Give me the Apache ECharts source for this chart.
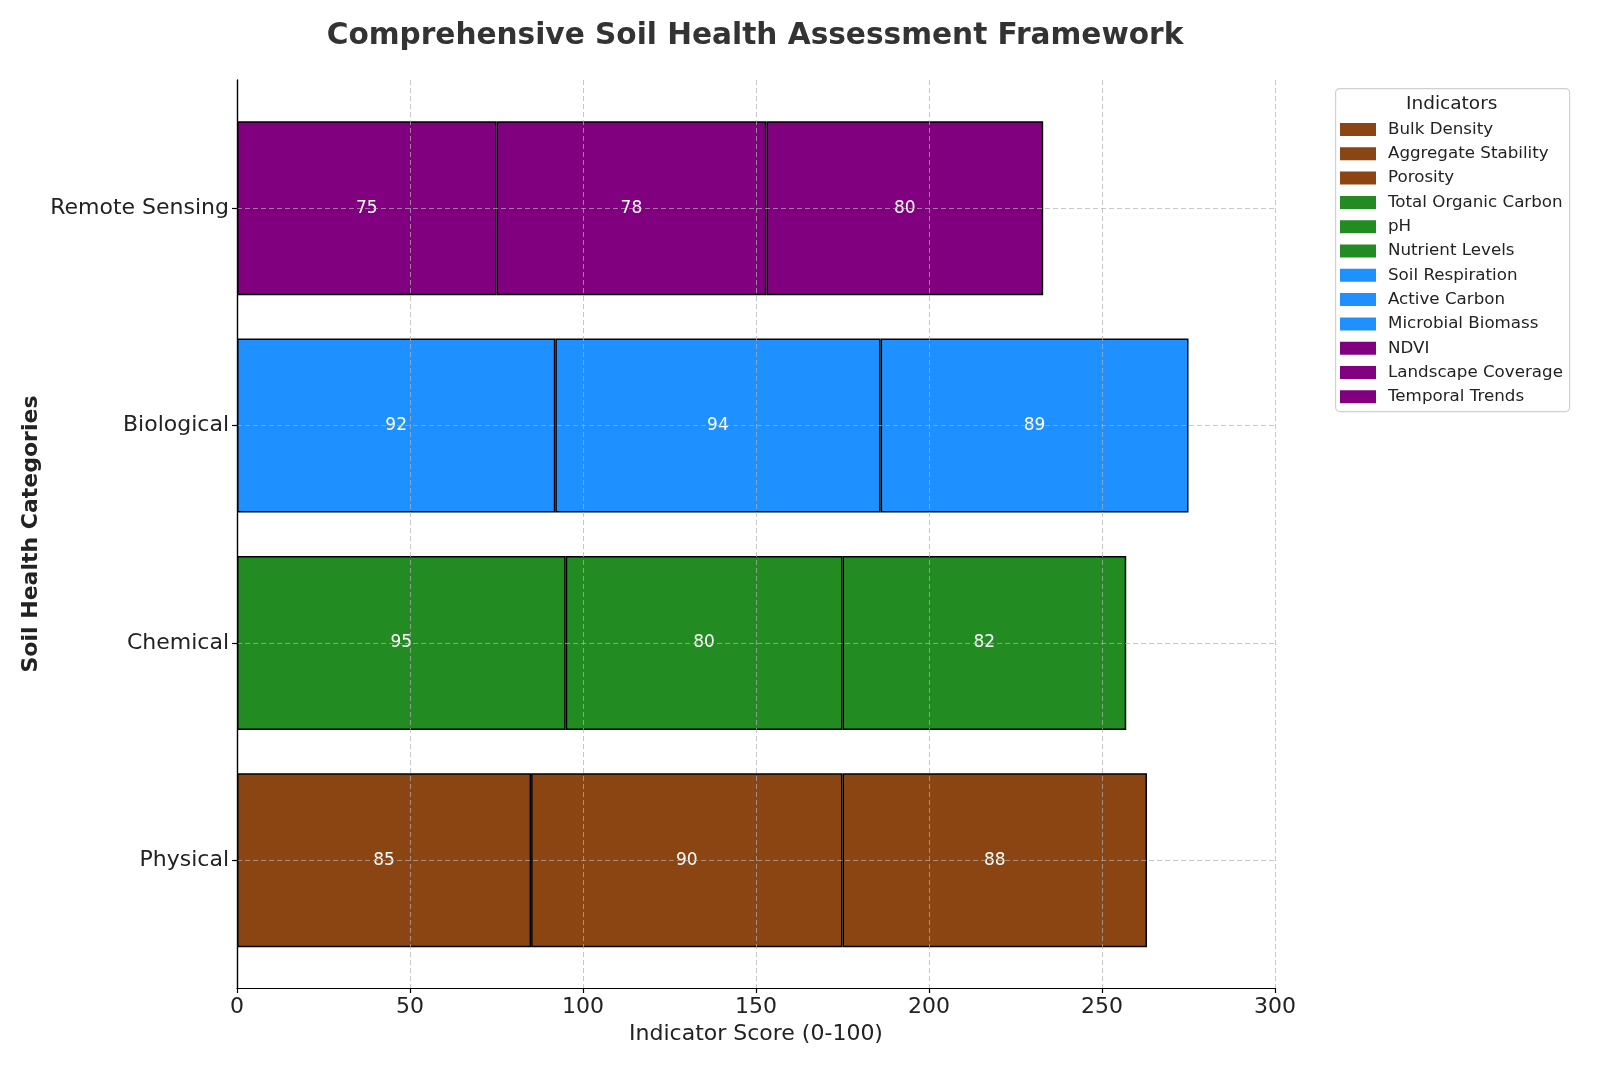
<!DOCTYPE html>
<html>
<head>
<meta charset="utf-8">
<script src="https://cdn.jsdelivr.net/npm/echarts@6/dist/echarts.min.js"></script>
<style>html,body{margin:0;padding:0;background:#fff}#c{width:1600px;height:1066px}</style>
</head>
<body>
<div id="c"></div>
<script>
const categories = ['Physical', 'Chemical', 'Biological', 'Remote Sensing'];
const indicators = ['Bulk Density', 'Aggregate Stability', 'Porosity',
  'Total Organic Carbon', 'pH', 'Nutrient Levels',
  'Soil Respiration', 'Active Carbon', 'Microbial Biomass',
  'NDVI', 'Landscape Coverage', 'Temporal Trends'];
const indicatorCategory = ['Physical', 'Physical', 'Physical',
  'Chemical', 'Chemical', 'Chemical',
  'Biological', 'Biological', 'Biological',
  'Remote Sensing', 'Remote Sensing', 'Remote Sensing'];
const indicatorScores = [85, 90, 88, 95, 80, 82, 92, 94, 89, 75, 78, 80];
const categoryColors = {
  'Physical': '#8B4513', 'Chemical': '#228B22',
  'Biological': '#1E90FF', 'Remote Sensing': '#800080'
};
const xTicks = [0, 50, 100, 150, 200, 250, 300];

const FONT = 'DejaVu Sans';
const gridLine = { type: [5, 3], color: 'rgba(176,176,176,0.7)', width: 1 };

const series = indicators.map((name, i) => ({
  name: name,
  type: 'bar',
  stack: 'total',
  xAxisIndex: 1,
  yAxisIndex: 1,
  barWidth: 174,
  data: categories.map(c => c === indicatorCategory[i] ? indicatorScores[i] : '-'),
  itemStyle: { color: categoryColors[indicatorCategory[i]], borderColor: '#000', borderWidth: 1.5 },
  label: { show: true, position: 'inside', color: '#fff', fontSize: 17, fontFamily: FONT,
           formatter: p => String(p.value) },
  z: 2
}));
series.push({
  name: '_grid',
  type: 'line',
  xAxisIndex: 1,
  yAxisIndex: 1,
  data: categories.map(() => '-'),
  z: 6,
  silent: true,
  markLine: {
    silent: true,
    symbol: 'none',
    label: { show: false },
    lineStyle: gridLine,
    data: categories.map(c => ({ yAxis: c }))
  }
});

const chart = echarts.init(document.getElementById('c'));
chart.setOption({
  backgroundColor: '#fff',
  animation: false,
  title: {
    text: 'Comprehensive Soil Health Assessment Framework',
    left: 750, top: 16, textAlign: 'center',
    textStyle: { fontFamily: FONT, fontSize: 29.6, fontWeight: 'bold', color: '#333' }
  },
  grid: [
    { left: 237, right: 325, top: 80, bottom: 78 },
    { left: 237, right: 325, top: 99.5, bottom: 97 }
  ],
  xAxis: [
    {
      gridIndex: 0, type: 'value', min: 0, max: 300, interval: 50, z: 5,
      name: 'Indicator Score (0-100)', nameLocation: 'middle', nameGap: 35,
      nameTextStyle: { fontFamily: FONT, fontSize: 22, color: '#222' },
      axisLine: { show: true, lineStyle: { color: '#000', width: 1.2 } },
      axisTick: { show: true, length: 5, lineStyle: { color: '#000', width: 1.2 } },
      axisLabel: { fontFamily: FONT, fontSize: 22, color: '#222', margin: 8,
                   customValues: xTicks },
      splitLine: { show: true, lineStyle: gridLine }
    },
    { gridIndex: 1, type: 'value', min: 0, max: 300, show: false }
  ],
  yAxis: [
    {
      gridIndex: 0, type: 'value', min: 0, max: 1, z: 8,
      name: 'Soil Health Categories', nameLocation: 'middle', nameGap: 195,
      nameTextStyle: { fontFamily: FONT, fontSize: 22, fontWeight: 'bold', color: '#222' },
      axisLine: { show: true, lineStyle: { color: '#000', width: 1.4 } },
      axisTick: { show: false }, axisLabel: { show: false }, splitLine: { show: false }
    },
    {
      gridIndex: 1, type: 'category', data: categories,
      axisLine: { show: false },
      axisTick: { show: true, alignWithLabel: true, length: 5, lineStyle: { color: '#000', width: 1.2 } },
      axisLabel: { fontFamily: FONT, fontSize: 22, color: '#222', margin: 8 },
      splitLine: { show: false }
    }
  ],
  legend: {
    data: indicators,
    orient: 'vertical',
    left: 1340, top: 121,
    itemWidth: 36, itemHeight: 13, itemGap: 7.3,
    padding: 0,
    icon: 'rect',
    itemStyle: { borderWidth: 0 },
    textStyle: { fontFamily: FONT, fontSize: 16.7, color: '#222', lineHeight: 16.5, padding: [0, 0, 0, 7] },
    selectedMode: false
  },
  graphic: [
    { type: 'rect', left: 1335, top: 88, z: -1,
      shape: { width: 234, height: 323, r: 4 },
      style: { fill: '#fff', stroke: '#d0d0d0', lineWidth: 1.2 } },
    { type: 'text', top: 95, left: 1406,
      style: { text: 'Indicators', fontFamily: FONT, fontSize: 18.5, fill: '#222' } }
  ],
  series: series
});
</script>
</body>
</html>
